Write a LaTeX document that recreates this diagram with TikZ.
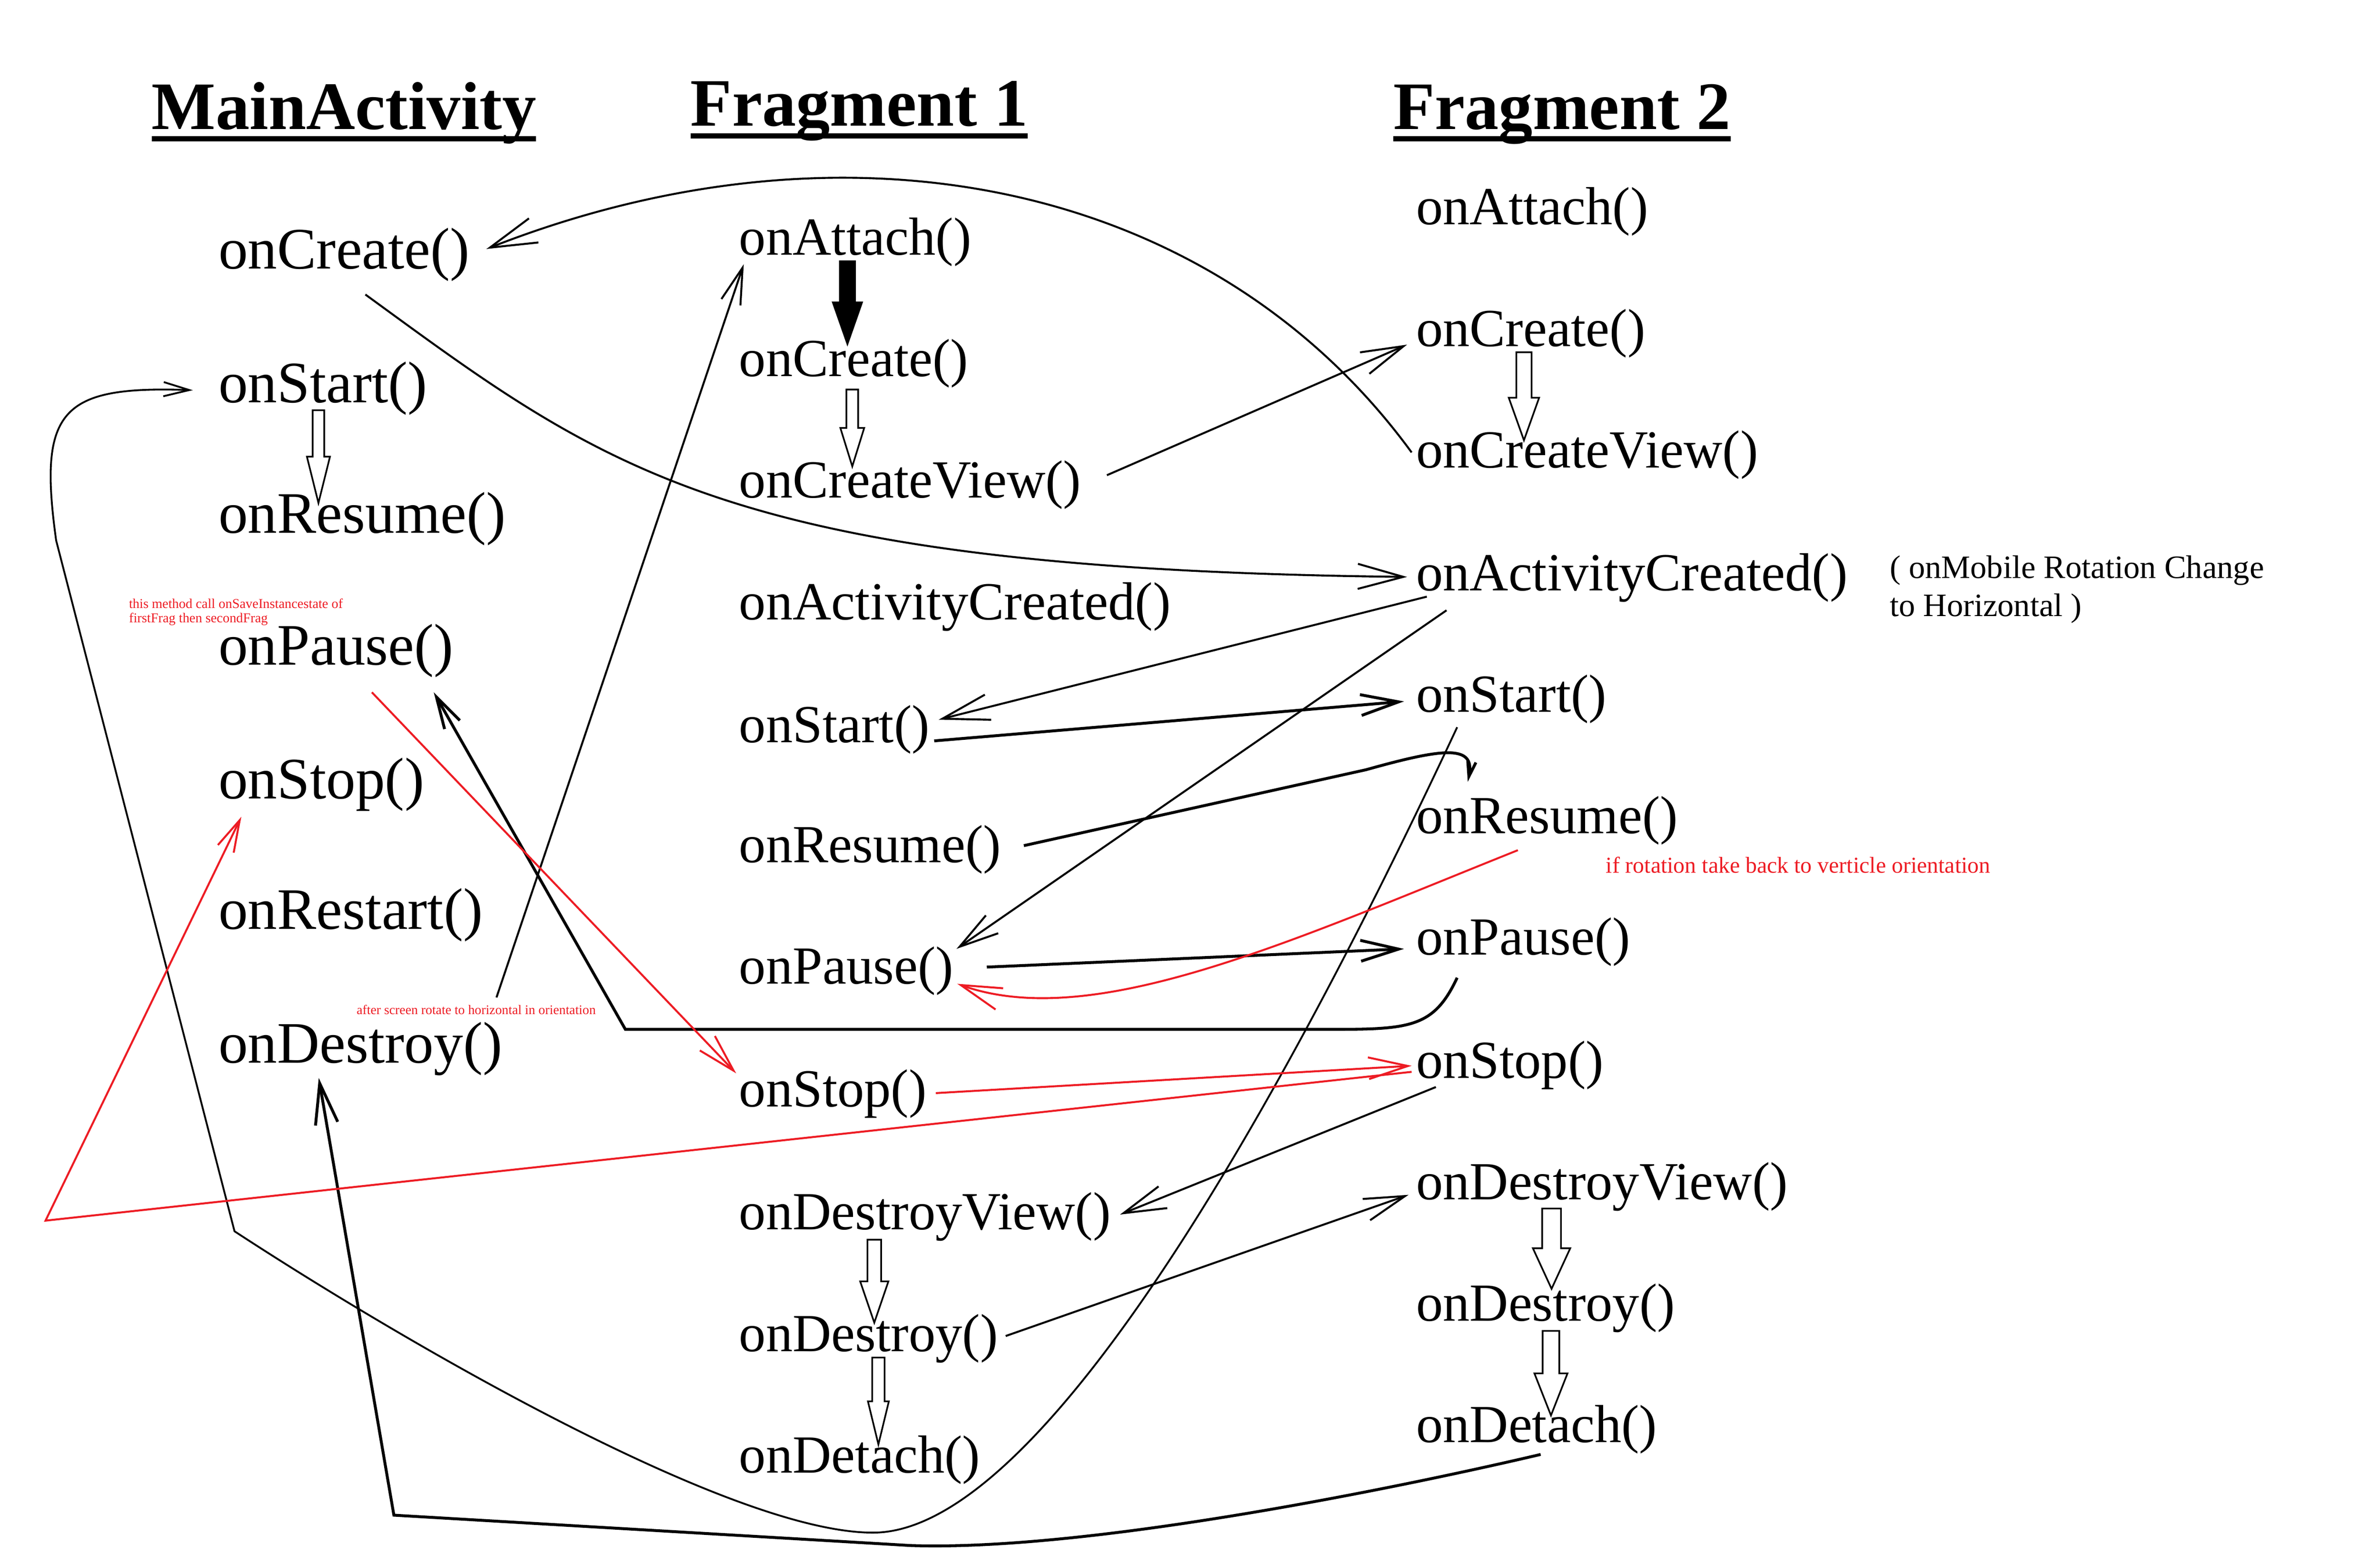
\documentclass[tikz,border=0pt]{standalone}
\usepackage{fontspec}
\setmainfont{Liberation Serif}
\usepackage{tikz}
\usetikzlibrary{calc,arrows.meta}
\definecolor{paintred}{RGB}{237,28,36}
\newcommand{\mainsize}{\fontsize{38.7}{44}\selectfont}
\newcommand{\fragsize}{\fontsize{35.3}{40}\selectfont}
\newcommand{\headsize}{\fontsize{44.7}{50}\selectfont\bfseries}
% block arrow: [fill] centre x, top, head base, tip, half shaft, half head
\newcommand{\blockarrow}[7][white]{%
  \draw[line width=1.1pt,fill=#1] (#2-#6,#3) -- (#2+#6,#3) -- (#2+#6,#4) -- (#2+#7,#4)
    -- (#2,#5) -- (#2-#7,#4) -- (#2-#6,#4) -- cycle;}

\begin{document}
\begin{tikzpicture}[x=1pt,y=-1pt,line width=1.3pt]
\tikzstyle{head node}=[anchor=base west,inner sep=0,outer sep=0,font=\headsize]
\tikzstyle{main node}=[anchor=base west,inner sep=0,outer sep=0,font=\mainsize]
\tikzstyle{frag node}=[anchor=base west,inner sep=0,outer sep=0,font=\fragsize]
\tikzstyle{note}=[anchor=base west,inner sep=0,outer sep=0,align=left,text=paintred]
\tikzstyle{red line}=[draw=paintred]
\tikzset{barb/.style={-{Straight Barb[length=#1,width'=0pt 0.55]}}}

\useasboundingbox (0,0) rectangle (1568,1030);

% column heads
\node[head node] (h0) at (100,85) {MainActivity};
\node[head node] (h1) at (455,83) {Fragment 1};
\node[head node] (h2) at (918,85) {Fragment 2};
\draw[line width=3.4pt] ($(h0.base west)+(0,6.5)$) -- ($(h0.base east)+(0,6.5)$);
\draw[line width=3.4pt] ($(h1.base west)+(0,6.5)$) -- ($(h1.base east)+(0,6.5)$);
\draw[line width=3.4pt] ($(h2.base west)+(0,6.5)$) -- ($(h2.base east)+(0,6.5)$);

% MainActivity
\node[main node] (m1) at (144,177) {onCreate()};
\node[main node] (m2) at (144,265) {onStart()};
\node[main node] (m3) at (144,351) {onResume()};
\node[main node] (m4) at (144,438) {onPause()};
\node[main node] (m5) at (144,526) {onStop()};
\node[main node] (m6) at (144,612) {onRestart()};
\node[main node] (m7) at (144,700) {onDestroy()};

% Fragment 1
\node[frag node] (f1) at (487,168) {onAttach()};
\node[frag node] (f2) at (487,248) {onCreate()};
\node[frag node] (f3) at (487,328) {onCreateView()};
\node[frag node] (f4) at (487,408) {onActivityCreated()};
\node[frag node] (f5) at (487,489) {onStart()};
\node[frag node] (f6) at (487,568) {onResume()};
\node[frag node] (f7) at (487,648) {onPause()};
\node[frag node] (f8) at (487,729) {onStop()};
\node[frag node] (f9) at (487,810) {onDestroyView()};
\node[frag node] (f10) at (487,890) {onDestroy()};
\node[frag node] (f11) at (487,970) {onDetach()};

% Fragment 2
\node[frag node] (g1) at (933,148) {onAttach()};
\node[frag node] (g2) at (933,228) {onCreate()};
\node[frag node] (g3) at (933,308) {onCreateView()};
\node[frag node] (g4) at (933,389) {onActivityCreated()};
\node[frag node] (g5) at (933,469) {onStart()};
\node[frag node] (g6) at (933,549) {onResume()};
\node[frag node] (g7) at (933,629) {onPause()};
\node[frag node] (g8) at (933,710) {onStop()};
\node[frag node] (g9) at (933,790) {onDestroyView()};
\node[frag node] (g10) at (933,870) {onDestroy()};
\node[frag node] (g11) at (933,950) {onDetach()};

% notes
\node[note,font=\fontsize{8.9}{9.4}\selectfont] (n1) at (85,410)
  {this method call onSaveInstancestate of\\firstFrag then secondFrag};
\node[note,font=\fontsize{8.7}{9.6}\selectfont] (n2) at (235,668)
  {after screen rotate to horizontal in orientation};
\node[note,font=\fontsize{15}{17}\selectfont] (n3) at (1058,575)
  {if rotation take back to verticle orientation};
\node[note,text=black,font=\fontsize{21.5}{25}\selectfont] (n4) at (1245,406)
  {( onMobile Rotation Change\\to Horizontal )};

% block arrows
\blockarrow[black]{558.3}{172.1}{199.2}{226.6}{5}{9.6}
\blockarrow{561.5}{256.6}{281.9}{307.2}{3.9}{7.85}
\blockarrow{209.8}{270.2}{300.8}{331.3}{3.8}{7.6}
\blockarrow{1004}{232}{262}{290}{5}{10}
\blockarrow{576}{816.6}{844}{871.2}{4.5}{9.3}
\blockarrow{578.7}{894.2}{923}{951.4}{4.1}{6.9}
\blockarrow{1022.2}{796}{822.2}{848.9}{6.2}{12.3}
\blockarrow{1021.8}{876.6}{904.6}{932.3}{5.5}{10.9}

% black connectors
\draw[barb=31pt] ($(g3.base west)+(-3,-10)$) .. controls (800,120) and (560,70) .. ($(m1.base east)+(11,-13)$);
\draw[barb=30pt] ($(m1.base)+(14,17)$) .. controls (400,310) and (480,375) .. ($(g4.base west)+(-6,-9)$);
\draw[barb=28pt] ($(f3.base east)+(17,-15)$) -- ($(g2.base west)+(-6,-1)$);
\draw[barb=31pt] ($(g4.base west)+(7,4)$) -- ($(f5.base east)+(6,-15)$);
\draw[barb=25pt,line width=1.9pt] ($(f5.base east)+(3,-1)$) -- ($(g5.base west)+(-8,-7)$);
\draw[barb=26pt] ($(g4.base west)+(20,13)$) -- ($(f7.base east)+(2,-23)$);
\draw[barb=10pt,line width=1.9pt] ($(f6.base east)+(15,-11)$) -- (900,507)
  .. controls (950,493) and (972,490) .. ($(g6.base west)+(34,-34)$);
\draw[barb=25pt,line width=1.9pt] ($(f7.base east)+(22,-11)$) -- ($(g7.base west)+(-8,-4)$);
\draw[barb=24pt] ($(m6.base east)+(9,45)$) -- ($(f1.base west)+(3,6)$);
\draw[barb=28pt] ($(g8.base west)+(13,6)$) -- ($(f9.base east)+(6,-10)$);
\draw[barb=27pt] ($(f10.base east)+(5,-10)$) -- ($(g9.base west)+(-5,-3)$);

% long return paths
\coordinate (b1) at (575,1009.5);
\coordinate (b2) at (154.5,811);
\draw[barb=17pt,line width=1.2pt] ($(g5.base west)+(27,10)$) .. controls (880,650) and (700,1010) .. (b1)
  .. controls (480,1009.5) and (260,880) .. (b2) -- (37,356)
  .. controls (25,270) and (40,254) .. ($(m2.base west)+(-17,-8)$);
\coordinate (p1) at (412,678);
\draw[barb=21pt,line width=1.9pt] ($(g7.base west)+(27,15)$) .. controls (945,676) and (930,678) .. (880,678)
  -- (p1) -- ($(m4.base east)+(-13,18)$);
\coordinate (d1) at (259.5,998);
\draw[barb=27pt,line width=1.9pt] ($(g11.base west)+(82,8)$) .. controls (930,978) and (720,1022) .. (600,1018)
  -- (d1) -- ($(m7.base west)+(66,10)$);

% red connectors
\draw[red line,barb=27pt] ($(g6.base west)+(67,11)$) .. controls (850,620) and (720,680) .. ($(f7.base east)+(2.5,0)$);
\draw[red line,barb=26pt] ($(f8.base east)+(6,-9)$) -- ($(g8.base west)+(-3,-8)$);
\coordinate (r1) at (30,804);
\draw[red line,barb=21pt] ($(g8.base west)+(-3,-4)$) -- (r1) -- ($(m5.base west)+(15,12)$);
\draw[red line,barb=25pt] ($(m4.base west)+(101,18)$) -- ($(f8.base west)+(-2,-22)$);

\end{tikzpicture}
\end{document}
